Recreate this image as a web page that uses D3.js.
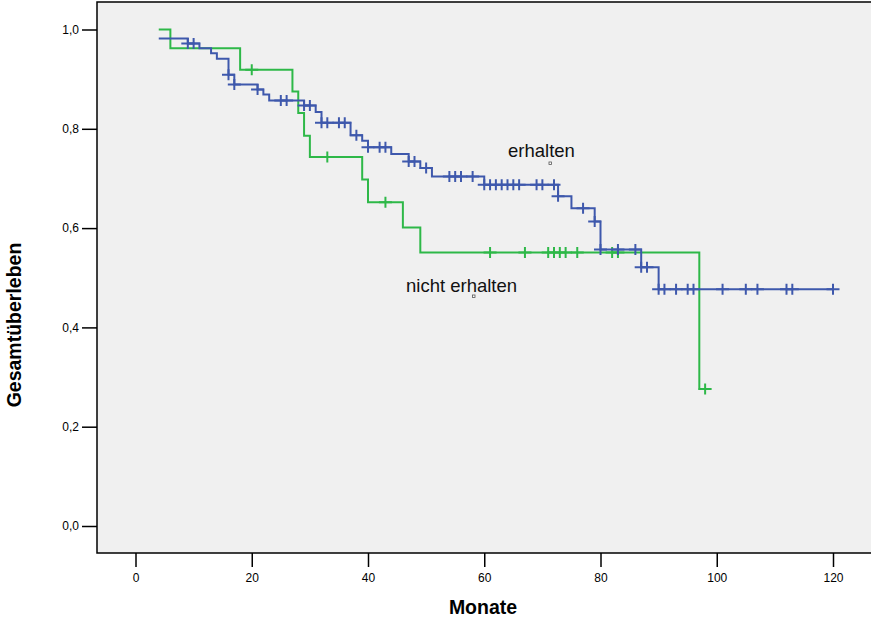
<!DOCTYPE html>
<html>
<head>
<meta charset="utf-8">
<script src="https://cdn.jsdelivr.net/npm/d3@7"></script>
<style>
  html, body { margin: 0; padding: 0; background: #ffffff; }
  svg { display: block; font-family: "Liberation Sans", Arial, sans-serif; }
</style>
</head>
<body>
<script>
// ---------- data ----------
const xTickValues = [0, 20, 40, 60, 80, 100, 120];
const xTickLabels = ["0", "20", "40", "60", "80", "100", "120"];
const yTickValues = [0, 0.2, 0.4, 0.6, 0.8, 1.0];
const yTickLabels = ["0,0", "0,2", "0,4", "0,6", "0,8", "1,0"];

// group "erhalten" (blue)
const erhaltenTimes = [4, 9, 11, 13, 14, 16, 17, 21, 22, 23, 29, 31, 32, 37, 39, 40, 44, 47, 49, 51, 60, 72.7, 75, 79, 80, 87, 90, 120];
const erhaltenSurv  = [0.982, 0.972, 0.962, 0.952, 0.941, 0.909, 0.889, 0.879, 0.869, 0.857, 0.847, 0.834, 0.812, 0.787, 0.776, 0.763, 0.749, 0.734, 0.721, 0.704, 0.6875, 0.664, 0.640, 0.6135, 0.557, 0.521, 0.477, 0.477];
const erhaltenCensored = [9, 10, 16, 17, 21, 25, 26, 29, 30, 32, 33, 35, 36, 38, 40, 42, 43, 47, 48, 50, 54, 55, 56, 58, 60, 61, 62, 63, 64, 65, 66, 69, 70, 72, 72.7, 77, 79, 80, 83, 86, 87, 88, 90, 91, 93, 95, 96, 101, 105, 107, 112, 113, 120];

// group "nicht erhalten" (green)
const nichtTimes = [4, 6, 18, 27, 28, 29, 30, 39, 40, 46, 49, 97, 98];
const nichtSurv  = [1.0, 0.962, 0.919, 0.875, 0.832, 0.786, 0.743, 0.698, 0.652, 0.601, 0.551, 0.276, 0.276];
const nichtCensored = [20, 33, 43, 61, 67, 71, 72, 73, 74, 76, 82, 83, 98];

const groupNames = ["erhalten", "nicht erhalten"];
const groupColors = ["#3e58ac", "#2eb848"];

// ---------- layout ----------
const W = 871, H = 622;
const plot = { left: 97, top: 2, right: 885, bottom: 553 };

const svg = d3.select("body").append("svg").attr("width", W).attr("height", H);

const x = d3.scaleLinear().domain([0, 120]).range([135.5, 833]);
const y = d3.scaleLinear().domain([0, 1]).range([526, 29.5]);

// plot background + frame
svg.append("rect")
  .attr("x", plot.left).attr("y", plot.top)
  .attr("width", plot.right - plot.left).attr("height", plot.bottom - plot.top)
  .attr("fill", "#f0f0f0").attr("stroke", "#000").attr("stroke-width", 1.5);

// axes
const yAxis = d3.axisLeft(y).tickValues(yTickValues)
  .tickFormat((d, i) => yTickLabels[i]).tickSize(15).tickPadding(3).tickSizeOuter(0);
const gy = svg.append("g").attr("transform", `translate(${plot.left},0)`).call(yAxis);
gy.select(".domain").remove();
gy.selectAll("line").attr("stroke", "#000").attr("stroke-width", 1.5);
gy.selectAll("text").attr("font-size", 12).attr("fill", "#000")
  .attr("font-family", "Liberation Sans, Arial, sans-serif");

const xAxis = d3.axisBottom(x).tickValues(xTickValues)
  .tickFormat((d, i) => xTickLabels[i]).tickSize(14).tickPadding(6).tickSizeOuter(0);
const gx = svg.append("g").attr("transform", `translate(0,${plot.bottom})`).call(xAxis);
gx.select(".domain").remove();
gx.selectAll("line").attr("stroke", "#000").attr("stroke-width", 1.5);
gx.selectAll("text").attr("font-size", 12).attr("fill", "#000")
  .attr("font-family", "Liberation Sans, Arial, sans-serif");

// axis titles
svg.append("text").attr("x", 483).attr("y", 614)
  .attr("text-anchor", "middle").attr("font-size", 19.5).attr("font-weight", "bold")
  .text("Monate");
svg.append("text").attr("transform", "translate(21,325) rotate(-90)")
  .attr("text-anchor", "middle").attr("font-size", 19.5).attr("font-weight", "bold")
  .text("Gesamtüberleben");

// ---------- curves ----------
const line = d3.line().x(d => x(d[0])).y(d => y(d[1])).curve(d3.curveStepAfter);

function survAt(times, surv, t) {
  let s = surv[0];
  for (let i = 0; i < times.length; i++) { if (times[i] <= t + 1e-9) s = surv[i]; }
  return s;
}

function drawGroup(times, surv, censored, color) {
  const pts = times.map((t, i) => [t, surv[i]]);
  const g = svg.append("g");
  g.append("path").attr("d", line(pts)).attr("fill", "none")
    .attr("stroke", color).attr("stroke-width", 2);
  g.selectAll("path.cens").data(censored).enter().append("path")
    .attr("class", "cens")
    .attr("d", t => {
      const cx = x(t), cy = y(survAt(times, surv, t));
      return `M${cx - 6.5},${cy}H${cx + 6.5}M${cx},${cy - 5.5}V${cy + 5.5}`;
    })
    .attr("fill", "none").attr("stroke", color).attr("stroke-width", 2);
}

drawGroup(nichtTimes, nichtSurv, nichtCensored, groupColors[1]);
drawGroup(erhaltenTimes, erhaltenSurv, erhaltenCensored, groupColors[0]);

// ---------- labels ----------
svg.append("text").attr("x", 508).attr("y", 157).attr("font-size", 18.5).attr("fill", "#111")
  .text(groupNames[0]);
svg.append("rect").attr("x", 549).attr("y", 162).attr("width", 2.5).attr("height", 2.5)
  .attr("fill", "#fff").attr("stroke", "#555").attr("stroke-width", 0.8);
svg.append("text").attr("x", 406).attr("y", 292).attr("font-size", 18.5).attr("fill", "#111")
  .text(groupNames[1]);
svg.append("rect").attr("x", 472.5).attr("y", 295).attr("width", 2.5).attr("height", 2.5)
  .attr("fill", "#fff").attr("stroke", "#555").attr("stroke-width", 0.8);
</script>
</body>
</html>
